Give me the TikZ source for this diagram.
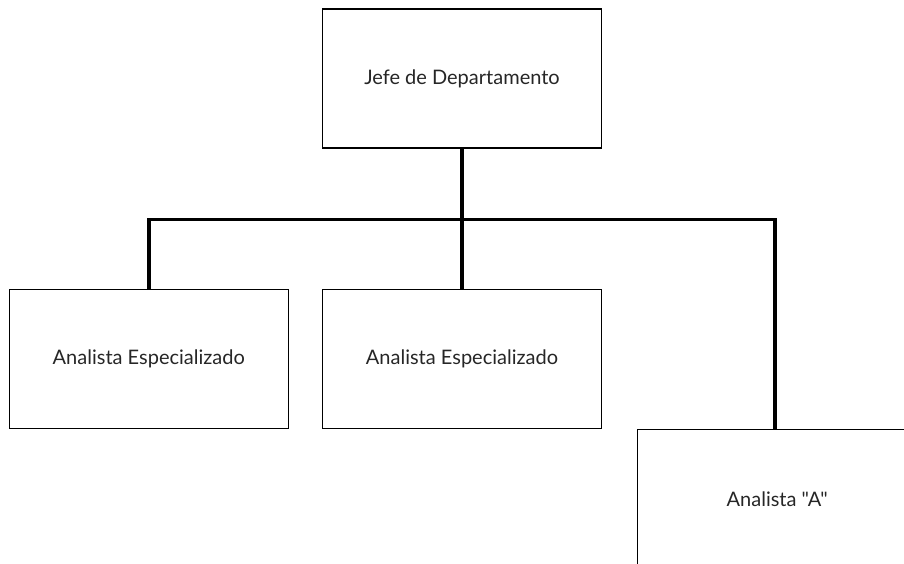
\documentclass[tikz,border=0pt]{standalone}
\usepackage{fontspec}
\newfontfamily\puestofont{Lato}
\usetikzlibrary{positioning}

\begin{document}
\begin{tikzpicture}[
    puesto/.style={rectangle, draw, line width=1.2pt, minimum width=279pt, minimum height=139pt,
      inner sep=0pt, font=\puestofont\fontsize{20}{24}\selectfont, text=black!85},
    rama/.style={line width=3.6pt, line join=miter}
  ]
    \useasboundingbox (0,0) rectangle (904pt,-563pt);
    \clip (0,0) rectangle (904pt,-563pt);
    \node[puesto] (jefe) at (462pt,-78.5pt) {Jefe de Departamento};
    \node[puesto, below=140pt of jefe] (analista2) {Analista Especializado};
    \node[puesto, left=33pt of analista2] (analista1) {Analista Especializado};
    \node[puesto, below right=0pt and 35pt of analista2] (analistaA) {Analista "A"};
    % lineas de mando
    \draw[rama] (jefe.south) -- ++(0,-71pt) coordinate (bus);
    \draw[rama] (analista1.north) |- (bus) -| ([xshift=-2pt]analistaA.north);
    \draw[rama] (bus) -- (analista2.north);
\end{tikzpicture}
\end{document}
